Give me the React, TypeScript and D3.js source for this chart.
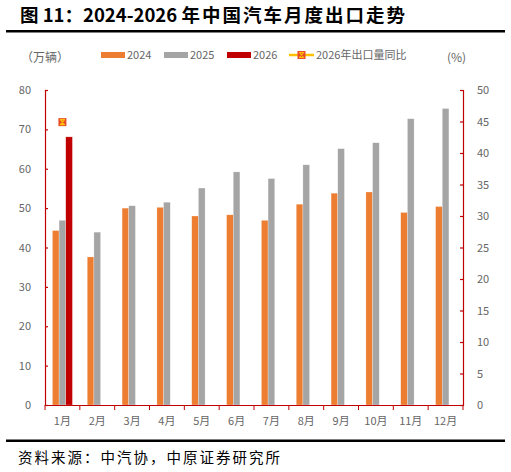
import React, { useEffect, useRef } from "react";
import * as d3 from "d3";

// months
const months = ["1月", "2月", "3月", "4月", "5月", "6月", "7月", "8月", "9月", "10月", "11月", "12月"];
// exports, 万辆
const exports2024 = [44.3, 37.6, 50.0, 50.2, 48.0, 48.3, 46.9, 51.0, 53.8, 54.1, 48.9, 50.4];
const exports2025 = [46.9, 43.9, 50.6, 51.5, 55.1, 59.2, 57.5, 61.0, 65.1, 66.6, 72.7, 75.3];
const exports2026 = [68.1];
// 2026 yoy, %
const yoy2026 = [44.9];

const leftTicks = [0, 10, 20, 30, 40, 50, 60, 70, 80];
const rightTicks = [0, 5, 10, 15, 20, 25, 30, 35, 40, 45, 50];

const seriesKeys = ["2024", "2025", "2026"];
const colors: Record<string, string> = { "2024": "#ED7D31", "2025": "#A5A5A5", "2026": "#C00000" };

const App: React.FC = () => {
  const ref = useRef<SVGSVGElement>(null);

  useEffect(() => {
    const svg = d3.select(ref.current);
    svg.selectAll("*").remove();

    const W = 511;
    const H = 472;
    const margin = { top: 90, right: 48, bottom: 67, left: 45 };
    const width = W - margin.left - margin.right;
    const height = H - margin.top - margin.bottom;
    const axisColor = "#C00000";
    const labelColor = "#666666";
    const font = "'Noto Sans CJK SC', 'Noto Sans', sans-serif";

    // title
    svg
      .append("text")
      .attr("x", 20)
      .attr("y", 22)
      .attr("font-family", font)
      .attr("font-weight", "bold")
      .attr("font-size", 18.5)
      .attr("fill", "#000")
      .text("图 11：2024-2026 ")
      .append("tspan")
      .attr("letter-spacing", 2)
      .text("年中国汽车月度出口走势");
    svg.append("rect").attr("x", 6).attr("y", 30).attr("width", 499).attr("height", 2.5).attr("fill", "#000");
    svg.append("rect").attr("x", 6).attr("y", 439.5).attr("width", 499).attr("height", 2.5).attr("fill", "#000");
    svg
      .append("text")
      .attr("x", 18)
      .attr("y", 463)
      .attr("font-family", font)
      .attr("font-size", 14.5)
      .attr("fill", "#000")
      .attr("letter-spacing", 2)
      .text("资料来源：中汽协，中原证券研究所");

    const g = svg.append("g").attr("transform", `translate(${margin.left},${margin.top})`);

    const x = d3.scaleBand().domain(months).range([0, width]).padding(0);
    const inner = d3.scaleBand().domain(seriesKeys).range([x.bandwidth() / 2 - 10, x.bandwidth() / 2 + 10]).padding(0);
    const yL = d3.scaleLinear().domain([0, 80]).range([height, 0]);
    const yR = d3.scaleLinear().domain([0, 50]).range([height, 0]);

    const rows = months.map((m, i) => ({
      month: m,
      "2024": exports2024[i],
      "2025": exports2025[i],
      "2026": exports2026[i],
    }));

    // bars
    seriesKeys.forEach((key) => {
      g.append("g")
        .selectAll("rect")
        .data(rows.filter((d: any) => d[key] != null))
        .join("rect")
        .attr("x", (d: any) => (x(d.month) as number) + (inner(key) as number))
        .attr("y", (d: any) => yL(d[key]))
        .attr("width", inner.bandwidth())
        .attr("height", (d: any) => height - yL(d[key]))
        .attr("fill", colors[key])
        .attr("stroke", "#fff")
        .attr("stroke-opacity", 0.5)
        .attr("stroke-width", 0.5);
    });

    // left axis
    const left = g.append("g").call(d3.axisLeft(yL).tickValues(leftTicks).tickSize(-3).tickPadding(14));
    left.select(".domain").attr("stroke", axisColor).attr("stroke-width", 1.2);
    left.selectAll(".tick line").attr("stroke", axisColor).attr("stroke-width", 1.2);
    left.selectAll(".tick text").attr("fill", labelColor).attr("font-size", 11).attr("font-family", font);

    // right axis
    const right = g
      .append("g")
      .attr("transform", `translate(${width},0)`)
      .call(d3.axisRight(yR).tickValues(rightTicks).tickSize(-3).tickPadding(14));
    right.select(".domain").attr("stroke", axisColor).attr("stroke-width", 1.2);
    right.selectAll(".tick line").attr("stroke", axisColor).attr("stroke-width", 1.2);
    right.selectAll(".tick text").attr("fill", labelColor).attr("font-size", 11).attr("font-family", font);

    // bottom axis
    const bottom = g
      .append("g")
      .attr("transform", `translate(0,${height})`)
      .call(d3.axisBottom(x).tickSize(0).tickPadding(12));
    bottom.select(".domain").attr("stroke", axisColor).attr("stroke-width", 1.2);
    bottom.selectAll(".tick text").attr("fill", labelColor).attr("font-size", 11).attr("font-family", font);
    bottom
      .selectAll("line.sep")
      .data(d3.range(months.length + 1))
      .join("line")
      .attr("class", "sep")
      .attr("x1", (i) => (i / months.length) * width)
      .attr("x2", (i) => (i / months.length) * width)
      .attr("y1", 0)
      .attr("y2", 5)
      .attr("stroke", axisColor)
      .attr("stroke-width", 1);

    // yoy marker
    const marker = (sel: any, cx: number, cy: number) => {
      sel.append("rect").attr("x", cx - 4).attr("y", cy - 4).attr("width", 8).attr("height", 8).attr("fill", "#E84C2B");
      sel
        .append("path")
        .attr("d", `M${cx - 2},${cy - 2.5}L${cx + 2},${cy + 2.5}M${cx + 2},${cy - 2.5}L${cx - 2},${cy + 2.5}M${cx - 2.5},${cy - 2.5}H${cx + 2.5}M${cx - 2.5},${cy + 2.5}H${cx + 2.5}`)
        .attr("stroke", "#FFC000")
        .attr("stroke-width", 1.2);
    };
    yoy2026.forEach((v, i) => {
      marker(g, (x(months[i]) as number) + x.bandwidth() / 2, yR(v));
    });

    // legend
    const lg = svg.append("g");
    const legendY = 55;
    const items = [
      { key: "2024", x: 101 },
      { key: "2025", x: 164 },
      { key: "2026", x: 227 },
    ];
    items.forEach((it) => {
      lg.append("rect").attr("x", it.x).attr("y", legendY - 3).attr("width", 24).attr("height", 6).attr("fill", colors[it.key]);
      lg.append("text")
        .attr("x", it.x + 26)
        .attr("y", legendY + 4)
        .attr("font-family", font)
        .attr("font-size", 11)
        .attr("fill", labelColor)
        .text(it.key);
    });
    lg.append("line").attr("x1", 289).attr("x2", 314).attr("y1", legendY).attr("y2", legendY).attr("stroke", "#FFC000").attr("stroke-width", 2.5);
    marker(lg, 301.5, legendY);
    lg.append("text")
      .attr("x", 316)
      .attr("y", legendY + 4)
      .attr("font-family", font)
      .attr("font-size", 11)
      .attr("fill", labelColor)
      .text("2026年出口量同比");

    // units
    svg.append("text").attr("x", 21).attr("y", 62).attr("font-family", font).attr("font-size", 12).attr("fill", labelColor).text("（万辆）");
    svg.append("text").attr("x", 447).attr("y", 62).attr("font-family", font).attr("font-size", 12).attr("fill", labelColor).text("(%)");
  }, []);

  return (
    <svg
      ref={ref}
      width={511}
      height={472}
      style={{ display: "block", position: "absolute", left: 0, top: 0, background: "#fff" }}
    />
  );
};

export default App;
